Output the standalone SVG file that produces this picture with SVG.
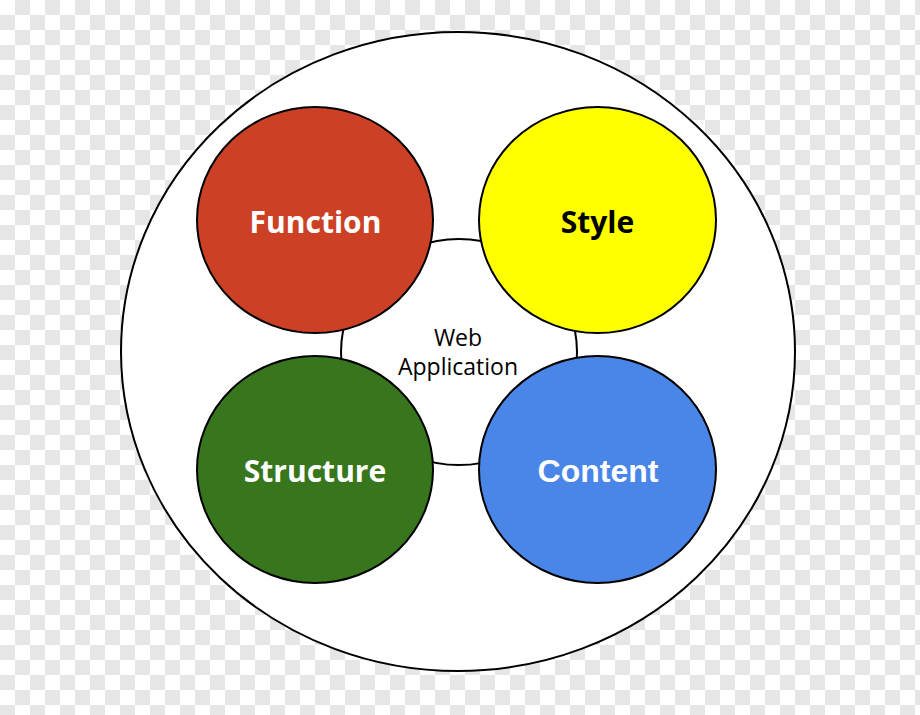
<svg xmlns="http://www.w3.org/2000/svg" width="920" height="715" viewBox="0 0 920 715">
<defs>
<pattern id="checker" x="0" y="0" width="30" height="30" patternUnits="userSpaceOnUse">
<rect width="30" height="30" fill="#ffffff"/>
<rect x="15" y="0" width="15" height="15" fill="#e6e6e6"/>
<rect x="0" y="15" width="15" height="15" fill="#e6e6e6"/>
</pattern>
</defs>
<style>
.node { stroke: #000000; stroke-width: 2; }
.lbl { font-family: "Open Sans", "Noto Sans", sans-serif; font-weight: bold; font-size: 30px; text-anchor: middle; }
.lbl2 { font-family: "Liberation Sans", Arial, sans-serif; font-weight: bold; font-size: 32px; text-anchor: middle; fill: #ffffff; }
.center { font-family: "Open Sans", "Noto Sans", sans-serif; font-size: 23px; text-anchor: middle; fill: #000000; }
</style>
<rect width="920" height="715" fill="url(#checker)"/>
<g id="outer">
<ellipse cx="458" cy="351.5" rx="337" ry="319.5" fill="#ffffff" stroke="#000000" stroke-width="2"/>
</g>
<g id="connectors">
<ellipse cx="459" cy="352" rx="118" ry="113" fill="none" stroke="#000000" stroke-width="2"/>
</g>
<g id="web-application">
<text class="center" x="458" y="346">Web</text>
<text class="center" x="458" y="375">Application</text>
</g>
<g id="function">
<ellipse class="node" cx="315" cy="220" rx="118" ry="113" fill="#cc4125"/>
<text class="lbl" x="315.5" y="233" fill="#ffffff">Function</text>
</g>
<g id="style">
<ellipse class="node" cx="597.5" cy="220" rx="118.5" ry="113" fill="#ffff00"/>
<text class="lbl" x="597.5" y="233" fill="#000000">Style</text>
</g>
<g id="structure">
<ellipse class="node" cx="315" cy="469.5" rx="118" ry="113.5" fill="#38761d"/>
<text class="lbl" x="315" y="482" fill="#ffffff">Structure</text>
</g>
<g id="content">
<ellipse class="node" cx="597.5" cy="469.5" rx="118.5" ry="113.5" fill="#4a86e8"/>
<text class="lbl2" x="598" y="482">Content</text>
</g>
</svg>
